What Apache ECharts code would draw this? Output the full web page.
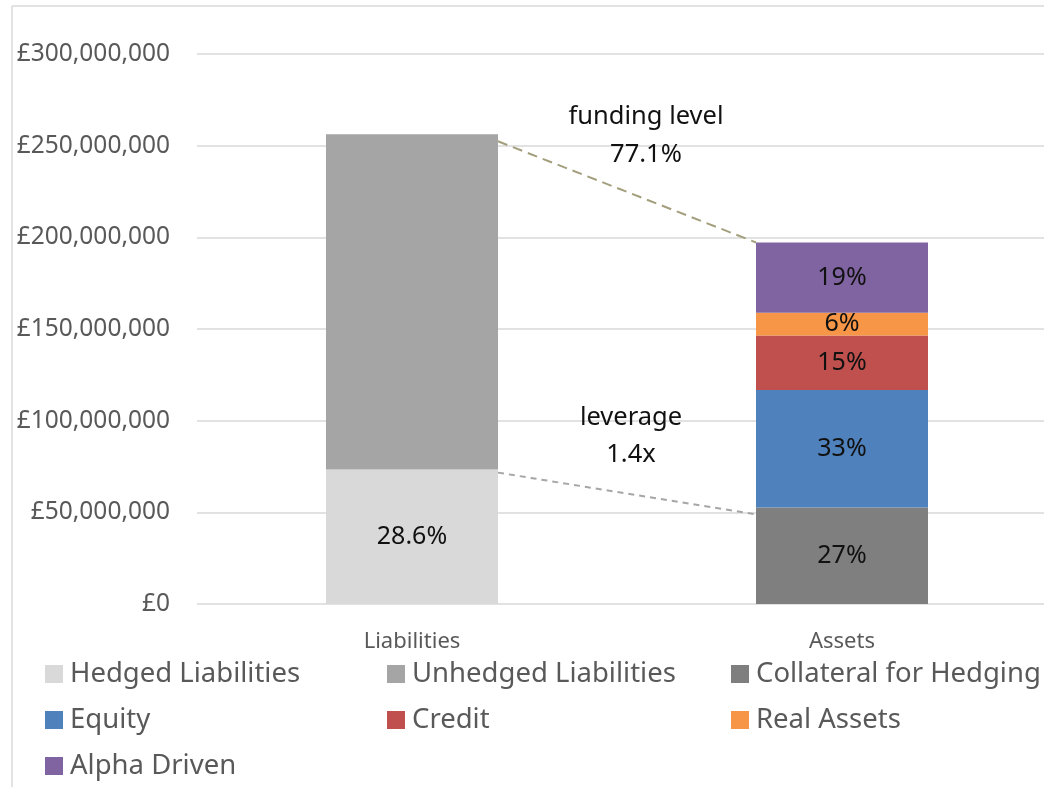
<!DOCTYPE html>
<html><head><meta charset="utf-8">
<script src="https://cdn.jsdelivr.net/npm/echarts@6.0.0/dist/echarts.min.js"></script>
<style>html,body{margin:0;padding:0;background:#fff;width:1044px;height:787px;overflow:hidden}#c{width:1058px;height:787px}</style>
</head><body><div id="c"></div>
<script>
// ---- data ----
const categories = ['Liabilities', 'Assets'];
const hedgedLiabilities   = [73300000, '-'];
const unhedgedLiabilities = [182900000, '-'];
const collateral          = ['-', 52700000];
const equity              = ['-', 64000000];
const credit              = ['-', 29800000];
const realAssets          = ['-', 12400000];
const alphaDriven         = ['-', 38300000];
const segmentLabels = {
  'Hedged Liabilities': ['28.6%', ''],
  'Collateral for Hedging': ['', '27%'],
  'Equity': ['', '33%'],
  'Credit': ['', '15%'],
  'Real Assets': ['', '6%'],
  'Alpha Driven': ['', '19%']
};
const yTicks = [0, 50000000, 100000000, 150000000, 200000000, 250000000, 300000000];
const fundingText = ['funding level', '77.1%'];
const leverageText = ['leverage', '1.4x'];

// ---- styles ----
const FONT = 'Noto Sans';
const BAR_W = 172;
const colors = {
  'Hedged Liabilities': '#D9D9D9',
  'Unhedged Liabilities': '#A5A5A5',
  'Collateral for Hedging': '#7F7F7F',
  'Equity': '#4F81BD',
  'Credit': '#C0504D',
  'Real Assets': '#F79646',
  'Alpha Driven': '#8064A2'
};
const seriesData = [
  ['Hedged Liabilities', hedgedLiabilities],
  ['Unhedged Liabilities', unhedgedLiabilities],
  ['Collateral for Hedging', collateral],
  ['Equity', equity],
  ['Credit', credit],
  ['Real Assets', realAssets],
  ['Alpha Driven', alphaDriven]
];

function fmtMoney(v) {
  return '£' + Math.round(v).toString().replace(/\B(?=(\d{3})+(?!\d))/g, ',');
}

const series = seriesData.map(([name, data]) => ({
  name, type: 'bar', stack: 'total', data, barWidth: BAR_W,
  itemStyle: { color: colors[name] },
  label: {
    show: !!segmentLabels[name], position: 'inside',
    fontFamily: FONT, fontSize: 25, color: '#111',
    formatter: p => (segmentLabels[name] || [])[p.dataIndex] || ''
  },
  emphasis: { disabled: true }
}));

const legendBase = {
  orient: 'vertical', icon: 'rect', itemWidth: 18, itemHeight: 18, itemGap: 18,
  padding: 0, selectedMode: false,
  textStyle: { fontFamily: FONT, fontSize: 27.5, color: '#595959', lineHeight: 28, padding: [0, 0, 0, 2] }
};

const chart = echarts.init(document.getElementById('c'), null, { renderer: 'canvas' });
chart.setOption({
  animation: false,
  backgroundColor: '#fff',
  grid: { left: 197, right: 1, top: 54, bottom: 183, containLabel: false },
  xAxis: {
    type: 'category', data: categories,
    axisLine: { show: false }, axisTick: { show: false },
    axisLabel: { fontFamily: FONT, fontSize: 22, color: '#595959', margin: 27 }
  },
  yAxis: {
    type: 'value', min: yTicks[0], max: yTicks[yTicks.length - 1], interval: yTicks[1] - yTicks[0],
    axisLine: { show: false }, axisTick: { show: false },
    splitLine: { lineStyle: { color: '#D9D9D9', width: 1.5 } },
    axisLabel: { fontFamily: FONT, fontSize: 24.5, color: '#595959', margin: 27, formatter: fmtMoney }
  },
  legend: [
    Object.assign({}, legendBase, { left: 45, top: 660, data: ['Hedged Liabilities', 'Equity', 'Alpha Driven'] }),
    Object.assign({}, legendBase, { left: 387, top: 660, data: ['Unhedged Liabilities', 'Credit'] }),
    Object.assign({}, legendBase, { left: 731, top: 660, data: ['Collateral for Hedging', 'Real Assets'] })
  ],
  series
});

// connectors derived from data through the axes
const liabTotal = hedgedLiabilities[0] + unhedgedLiabilities[0];
const assetTotal = collateral[1] + equity[1] + credit[1] + realAssets[1] + alphaDriven[1];
const pLT = chart.convertToPixel({ gridIndex: 0 }, [0, liabTotal]);
const pAT = chart.convertToPixel({ gridIndex: 0 }, [1, assetTotal]);
const pLH = chart.convertToPixel({ gridIndex: 0 }, [0, hedgedLiabilities[0]]);
const pAC = chart.convertToPixel({ gridIndex: 0 }, [1, collateral[1]]);
const midX = (pLT[0] + pAT[0]) / 2;

const annStyle = { fontFamily: FONT, fontSize: 25.5, fill: '#111', align: 'center', verticalAlign: 'middle' };
chart.setOption({
  graphic: [
    { type: 'line', shape: { x1: 12, y1: 6, x2: 12, y2: 800 }, style: { stroke: '#D9D9D9', lineWidth: 1.5 } },
    { type: 'line', shape: { x1: 12, y1: 6, x2: 1060, y2: 6 }, style: { stroke: '#D9D9D9', lineWidth: 1.5 } },
    { type: 'line', z: 10, shape: { x1: pLT[0] + BAR_W / 2, y1: pLT[1] + 7, x2: pAT[0] - BAR_W / 2, y2: pAT[1] },
      style: { stroke: '#A39E7C', lineWidth: 2, lineDash: [10, 6] } },
    { type: 'line', z: 10, shape: { x1: pLH[0] + BAR_W / 2, y1: pLH[1] + 3, x2: pAC[0] - BAR_W / 2, y2: pAC[1] + 7 },
      style: { stroke: '#A6A6A6', lineWidth: 2, lineDash: [6, 5] } },
    { type: 'text', z: 10, x: midX + 19, y: 117, style: Object.assign({ text: fundingText[0] }, annStyle) },
    { type: 'text', z: 10, x: midX + 19, y: 155, style: Object.assign({ text: fundingText[1] }, annStyle) },
    { type: 'text', z: 10, x: midX + 4, y: 418, style: Object.assign({ text: leverageText[0] }, annStyle) },
    { type: 'text', z: 10, x: midX + 4, y: 455, style: Object.assign({ text: leverageText[1] }, annStyle) }
  ]
});
</script>
</body></html>
